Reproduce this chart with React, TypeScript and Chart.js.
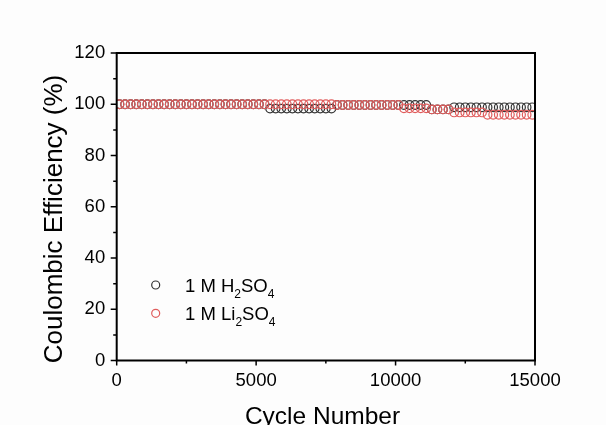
import { useEffect, useRef } from "react";
import { Chart, registerables } from "chart.js";

Chart.register(...registerables);

// Cycle numbers (x)
const cycles = [
  100, 300, 500, 700, 900, 1100, 1300, 1500, 1700, 1900, 2100, 2300, 2500, 2700, 2900,
  3100, 3300, 3500, 3700, 3900, 4100, 4300, 4500, 4700, 4900, 5100, 5300,
  5500, 5700, 5900, 6100, 6300, 6500, 6700, 6900, 7100, 7300, 7500, 7700,
  7900, 8100, 8300, 8500, 8700, 8900, 9100, 9300, 9500, 9700, 9900, 10100,
  10300, 10500, 10700, 10900, 11100,
  11300, 11500, 11700, 11900,
  12100, 12300, 12500, 12700, 12900, 13100,
  13300, 13500, 13700, 13900, 14100, 14300, 14500, 14700, 14900,
];

// Coulombic efficiency (%), 1 M H2SO4
const h2so4 = [
  100, 100, 100, 100, 100, 100, 100, 100, 100, 100, 100, 100, 100, 100, 100,
  100, 100, 100, 100, 100, 100, 100, 100, 100, 100, 100, 100,
  98.3, 98.3, 98.3, 98.3, 98.3, 98.3, 98.3, 98.3, 98.3, 98.3, 98.3, 98.3,
  99.7, 99.7, 99.7, 99.7, 99.7, 99.7, 99.7, 99.7, 99.7, 99.7, 99.7, 99.7,
  99.7, 99.7, 99.7, 99.7, 99.7,
  98.0, 98.0, 98.0, 98.0,
  98.8, 98.8, 98.8, 98.8, 98.8, 98.8,
  98.8, 98.8, 98.8, 98.8, 98.8, 98.8, 98.8, 98.8, 98.8,
];

// Coulombic efficiency (%), 1 M Li2SO4
const li2so4 = [
  100, 100, 100, 100, 100, 100, 100, 100, 100, 100, 100, 100, 100, 100, 100,
  100, 100, 100, 100, 100, 100, 100, 100, 100, 100, 100, 100,
  100, 100, 100, 100, 100, 100, 100, 100, 100, 100, 100, 100,
  99.7, 99.7, 99.7, 99.7, 99.7, 99.7, 99.7, 99.7, 99.7, 99.7, 99.7, 99.7,
  98.4, 98.4, 98.4, 98.4, 98.4,
  98.0, 98.0, 98.0, 98.0,
  96.8, 96.8, 96.8, 96.8, 96.8, 96.8,
  95.9, 95.9, 95.9, 95.9, 95.9, 95.9, 95.9, 95.9, 95.9,
];

const xMinorTicks = [2500, 7500, 12500];
const yMinorTicks = [10, 30, 50, 70, 90, 110];

const xTitle = "Cycle Number";
const yTitle = "Coulombic Efficiency (%)";

// legend label pieces: [text, isSubscript]
const legendH2SO4: [string, boolean][] = [["1 M H", false], ["2", true], ["SO", false], ["4", true]];
const legendLi2SO4: [string, boolean][] = [["1 M Li", false], ["2", true], ["SO", false], ["4", true]];

const BLACK = "#333333";
const RED = "#e05c5c";
const FONT = "'Liberation Sans', Arial, Helvetica, sans-serif";

const decorPlugin = {
  id: "decor",
  beforeDraw(chart: any) {
    const { ctx, width, height } = chart;
    ctx.save();
    ctx.fillStyle = "#fdfdfd";
    ctx.fillRect(0, 0, width, height);
    ctx.restore();
  },
  afterDraw(chart: any) {
    const { ctx, chartArea: a, scales } = chart;
    const xs = scales.x;
    const ys = scales.y;
    ctx.save();
    // frame
    ctx.strokeStyle = "#000";
    ctx.lineWidth = 2;
    ctx.strokeRect(a.left, a.top, a.right - a.left, a.bottom - a.top);

    // ticks
    ctx.lineWidth = 1.5;
    ctx.beginPath();
    xs.ticks.forEach((t: any) => {
      const px = xs.getPixelForValue(t.value);
      ctx.moveTo(px, a.bottom);
      ctx.lineTo(px, a.bottom + 5);
    });
    xMinorTicks.forEach((v) => {
      const px = xs.getPixelForValue(v);
      ctx.moveTo(px, a.bottom);
      ctx.lineTo(px, a.bottom + 3);
    });
    ys.ticks.forEach((t: any) => {
      const py = ys.getPixelForValue(t.value);
      ctx.moveTo(a.left, py);
      ctx.lineTo(a.left - 6, py);
    });
    yMinorTicks.forEach((v) => {
      const py = ys.getPixelForValue(v);
      ctx.moveTo(a.left, py);
      ctx.lineTo(a.left - 3.5, py);
    });
    ctx.stroke();

    // axis titles
    ctx.fillStyle = "#000";
    ctx.font = `24.5px ${FONT}`;
    ctx.textAlign = "center";
    ctx.textBaseline = "alphabetic";
    ctx.fillText(xTitle, 322.5, 424);
    ctx.save();
    ctx.translate(61.5, 219);
    ctx.rotate(-Math.PI / 2);
    ctx.font = `26px ${FONT}`;
    ctx.fillText(yTitle, 0, 0);
    ctx.restore();

    // legend
    const items: [string, [string, boolean][], number][] = [
      [BLACK, legendH2SO4, 285],
      [RED, legendLi2SO4, 313.3],
    ];
    items.forEach(([color, parts, cy]) => {
      ctx.beginPath();
      ctx.strokeStyle = color;
      ctx.lineWidth = 1.2;
      ctx.arc(155.7, cy, 4, 0, Math.PI * 2);
      ctx.stroke();
      let x = 185;
      ctx.textAlign = "left";
      ctx.fillStyle = "#000";
      parts.forEach(([txt, sub]) => {
        ctx.font = sub ? `12px ${FONT}` : `18.5px ${FONT}`;
        ctx.fillText(txt, x, cy + (sub ? 12.5 : 6.7));
        x += ctx.measureText(txt).width;
      });
    });
    ctx.restore();
  },
};

export default function App() {
  const ref = useRef<HTMLCanvasElement>(null);
  useEffect(() => {
    document.body.style.margin = "0";
    const canvas = ref.current;
    if (!canvas) return;
    const chart = new Chart(canvas, {
      type: "scatter",
      data: {
        datasets: [
          {
            label: "1 M H2SO4",
            data: cycles.map((c, i) => ({ x: c, y: h2so4[i] })),
            borderColor: BLACK,
            backgroundColor: "rgba(0,0,0,0)",
            pointRadius: 4.3,
            pointBorderWidth: 1.2,
            showLine: false,
            order: 1,
          },
          {
            label: "1 M Li2SO4",
            data: cycles.map((c, i) => ({ x: c, y: li2so4[i] })),
            borderColor: RED,
            backgroundColor: "rgba(0,0,0,0)",
            pointRadius: 4.3,
            pointBorderWidth: 1.2,
            showLine: false,
            order: 0,
          },
        ],
      },
      options: {
        animation: false,
        responsive: true,
        maintainAspectRatio: false,
        events: [],
        layout: { padding: { left: 0, top: 53, right: 71, bottom: 0 } },
        plugins: {
          legend: { display: false },
          tooltip: { enabled: false },
        },
        scales: {
          x: {
            type: "linear",
            min: 0,
            max: 15000,
            grid: { display: false, drawTicks: false },
            border: { display: false },
            ticks: {
              stepSize: 5000,
              color: "#000",
              padding: 9,
              font: { family: FONT, size: 18.5 },
              maxRotation: 0,
              callback: (v: any) => String(v),
            },
            afterFit: (s: any) => {
              s.height = 64.5;
            },
          },
          y: {
            min: 0,
            max: 120,
            grid: { display: false, drawTicks: false },
            border: { display: false },
            ticks: {
              stepSize: 20,
              color: "#000",
              padding: 11.5,
              font: { family: FONT, size: 18.5 },
              callback: (v: any) => String(v),
            },
            afterFit: (s: any) => {
              s.width = 116.7;
            },
          },
        },
      },
      plugins: [decorPlugin],
    });
    return () => chart.destroy();
  }, []);
  return (
    <div style={{ position: "fixed", left: 0, top: 0, width: 606, height: 425 }}>
      <canvas ref={ref} />
    </div>
  );
}
